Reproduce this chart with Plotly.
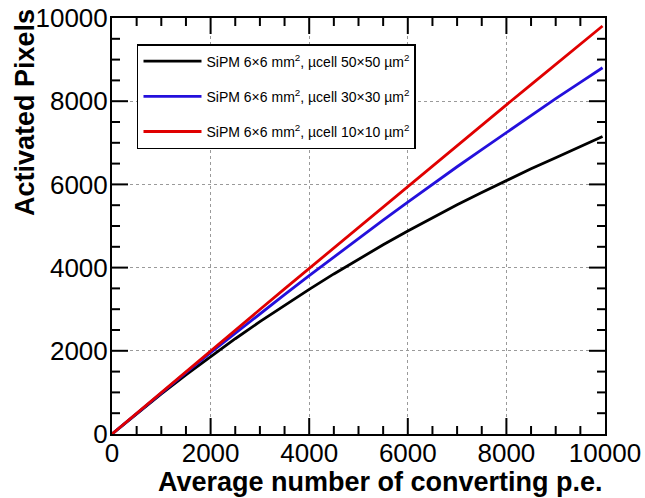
import plotly.graph_objects as go

# Average number of converting photoelectrons (x axis)
n_pe = [0, 500, 1000, 1500, 2000, 2500, 3000, 3500, 4000, 4500, 5000,
        5500, 6000, 6500, 7000, 7500, 8000, 8500, 9000, 9500, 9950]

# Activated pixels for each microcell size
pix_50um = [0, 490, 965, 1423, 1864, 2290, 2700, 3096, 3478, 3848, 4204,
            4548, 4880, 5200, 5510, 5808, 6096, 6374, 6642, 6900, 7150]
pix_30um = [0, 498, 990, 1474, 1955, 2425, 2893, 3350, 3808, 4255, 4702,
            5140, 5572, 6002, 6424, 6838, 7252, 7660, 8060, 8452, 8805]
pix_10um = [0, 502, 1003, 1502, 1998, 2496, 2992, 3488, 3982, 4475, 4968,
            5460, 5950, 6442, 6932, 7422, 7912, 8400, 8888, 9372, 9808]

series_names = [
    "SiPM 6×6 mm<sup>2</sup>, µcell 50×50 µm<sup>2</sup>",
    "SiPM 6×6 mm<sup>2</sup>, µcell 30×30 µm<sup>2</sup>",
    "SiPM 6×6 mm<sup>2</sup>, µcell 10×10 µm<sup>2</sup>",
]
series_values = [pix_50um, pix_30um, pix_10um]
series_colors = ["#000000", "#2410dc", "#e00000"]

# Axis tick values (same on both axes)
AXIS_MIN, AXIS_MAX = 0, 10000
major_ticks = [2000, 4000, 6000, 8000]
minor_ticks = [v for v in range(500, 10000, 500) if v % 2000 != 0]

# Tick lengths in axis units (x ticks run along y, y ticks run along x)
MAJOR_LEN_Y, MAJOR_LEN_X = 385, 325
MINOR_LEN_Y, MINOR_LEN_X = 192, 162

FONT = "Liberation Sans, Arial, Helvetica, sans-serif"

fig = go.Figure()
for i, (name, vals, col) in enumerate(zip(series_names, series_values, series_colors)):
    fig.add_trace(go.Scatter(
        x=n_pe, y=vals, mode="lines", name=name,
        line=dict(color=col, width=2.8),
        legendgroup=f"g{i}",
    ))


def tick_segments(vals, len_y, len_x):
    """Inward tick segments on the four frame sides, separated by gaps."""
    xs, ys = [], []
    for v in vals:
        xs += [v, v, None, v, v, None]
        ys += [AXIS_MIN, AXIS_MIN + len_y, None, AXIS_MAX, AXIS_MAX - len_y, None]
        xs += [AXIS_MIN, AXIS_MIN + len_x, None, AXIS_MAX, AXIS_MAX - len_x, None]
        ys += [v, v, None, v, v, None]
    return xs, ys


for vals, ly, lx in ((major_ticks, MAJOR_LEN_Y, MAJOR_LEN_X),
                     (minor_ticks, MINOR_LEN_Y, MINOR_LEN_X)):
    tx, ty = tick_segments(vals, ly, lx)
    fig.add_trace(go.Scatter(
        x=tx, y=ty, mode="lines", showlegend=False, hoverinfo="skip",
        connectgaps=False, line=dict(color="black", width=2),
    ))

axis_common = dict(
    range=[AXIS_MIN, AXIS_MAX],
    dtick=2000,
    tickformat="d",
    ticks="",
    showline=True,
    linecolor="black",
    linewidth=2,
    mirror=True,
    showgrid=True,
    gridcolor="#9a9a9a",
    griddash="dot",
    gridwidth=1,
    zeroline=False,
    automargin=False,
    tickfont=dict(family=FONT, size=26, color="black"),
)

fig.update_xaxes(**axis_common, ticklabelstandoff=-5)
fig.update_yaxes(**axis_common, ticklabelstandoff=-3)

fig.add_annotation(
    text="<b>Average number of converting p.e.</b>",
    xref="paper", yref="paper", x=1.0, y=-0.115,
    xanchor="right", yanchor="middle", showarrow=False,
    font=dict(family=FONT, size=27, color="black"),
)
fig.add_annotation(
    text="<b>Activated Pixels</b>",
    xref="paper", yref="paper", x=-0.176, y=0.772,
    xanchor="center", yanchor="middle", textangle=-90, showarrow=False,
    font=dict(family=FONT, size=27, color="black"),
)

fig.update_layout(
    width=645, height=498,
    margin=dict(l=112, r=40, t=18, b=64, autoexpand=False),
    paper_bgcolor="white",
    plot_bgcolor="white",
    showlegend=True,
    legend=dict(
        x=0.0507, y=0.9375, xanchor="left", yanchor="top",
        bgcolor="white", bordercolor="black", borderwidth=1.5,
        font=dict(family=FONT, size=14, color="black"),
        itemwidth=58, tracegroupgap=14, traceorder="grouped",
    ),
)

fig.write_html("out.html")
